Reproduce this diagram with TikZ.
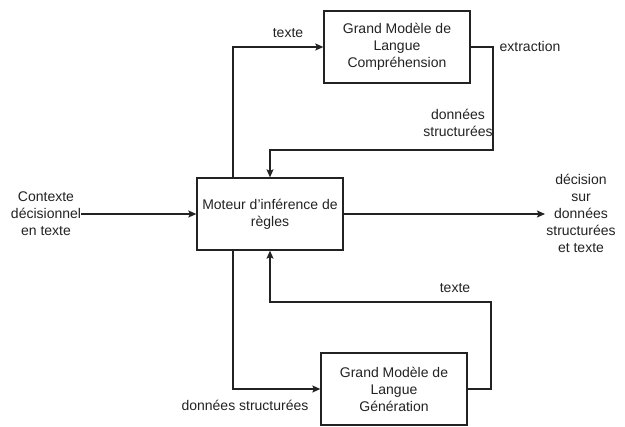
\documentclass[tikz,border=0pt]{standalone}
\usepackage{fontspec}
\setmainfont{Liberation Sans}
\usetikzlibrary{arrows.meta}
\definecolor{ink}{HTML}{222222}
\begin{document}
\begin{tikzpicture}[x=1pt,y=-1pt,
  txt/.style={font=\fontsize{14}{17}\selectfont, text=ink, align=center, inner sep=0pt},
  boxnode/.style={txt, draw=ink, line width=1.3pt, minimum width=146pt, minimum height=72pt},
  conn/.style={draw=ink, line width=1.3pt},
  arr/.style={conn, -{Stealth[length=8pt,width=7pt,inset=1.5pt]}}]
\useasboundingbox (0,0) rectangle (625,427);
\node[boxnode] (C) at (270,214) {Moteur d'inférence de\\règles};
\node[boxnode] (T) at (397,47) {Grand Modèle de\\Langue\\Compréhension};
\node[boxnode] (B) at (394,389) {Grand Modèle de\\Langue\\Génération};
\node[txt] (in) at (46,214) {Contexte\\décisionnel\\en texte};
\node[txt] (out) at (581,213) {décision\\sur\\données\\structurées\\et texte};
\node[txt] (l1) at (288,33) {texte};
\node[txt] (l2) at (530,47) {extraction};
\node[txt] (l3) at (458,122.5) {données\\structurées};
\node[txt] (l4) at (245,405) {données structurées};
\node[txt] (l5) at (455,288) {texte};
\coordinate (e1) at (493,150);
\coordinate (e2) at (491,302);
\coordinate (outtip) at (545,214);
\draw[arr] (in.east) -- (C.west);
\draw[arr] (C.east) -- (outtip);
\draw[arr] ([xshift=-37pt]C.north) |- (T.west);
\draw[arr] (T.east) -| (e1) -| (C.north);
\draw[arr] ([xshift=-37pt]C.south) |- (B.west);
\draw[arr] (B.east) -| (e2) -| (C.south);
\end{tikzpicture}
\end{document}
